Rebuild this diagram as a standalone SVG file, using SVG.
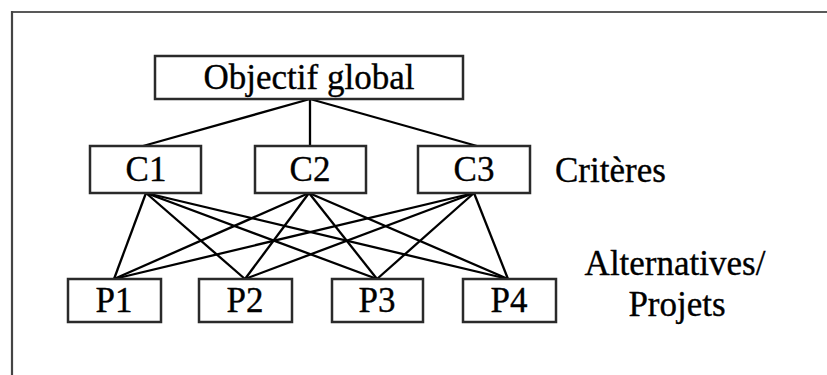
<svg xmlns="http://www.w3.org/2000/svg" width="827" height="375" viewBox="0 0 827 375">
  <style>
    .box { fill: #fff; stroke: #2a2a2a; stroke-width: 2.5; }
    .lbl { font-family: "Liberation Serif", "Times New Roman", serif; font-size: 35px; fill: #000; stroke: #000; stroke-width: 0.35; text-anchor: middle; }
    .side { font-family: "Liberation Serif", "Times New Roman", serif; font-size: 35px; fill: #000; stroke: #000; stroke-width: 0.35; }
    .link { stroke: #000; stroke-width: 2.3; fill: none; }
  </style>
  <rect width="827" height="375" fill="#fff"/>
  <!-- page frame: top and left edges -->
  <line x1="12" y1="12" x2="827" y2="12" stroke="#222" stroke-width="1.6"/>
  <line x1="12" y1="11" x2="12" y2="375" stroke="#444" stroke-width="2.2"/>

  <g id="connectors">
    <!-- goal to criteria -->
    <line class="link" x1="310" y1="99" x2="143" y2="146"/>
    <line class="link" x1="310" y1="99" x2="310" y2="146"/>
    <line class="link" x1="310" y1="99" x2="477" y2="146"/>
    <!-- criteria to alternatives -->
    <line class="link" x1="146" y1="193" x2="114" y2="279"/>
    <line class="link" x1="146" y1="193" x2="245" y2="279"/>
    <line class="link" x1="146" y1="193" x2="377" y2="279"/>
    <line class="link" x1="146" y1="193" x2="508" y2="279"/>
    <line class="link" x1="309" y1="193" x2="114" y2="279"/>
    <line class="link" x1="309" y1="193" x2="245" y2="279"/>
    <line class="link" x1="309" y1="193" x2="377" y2="279"/>
    <line class="link" x1="309" y1="193" x2="508" y2="279"/>
    <line class="link" x1="474" y1="193" x2="114" y2="279"/>
    <line class="link" x1="474" y1="193" x2="245" y2="279"/>
    <line class="link" x1="474" y1="193" x2="377" y2="279"/>
    <line class="link" x1="474" y1="193" x2="508" y2="279"/>
  </g>

  <g id="goal">
    <rect class="box" x="155" y="56" width="308" height="43"/>
    <text class="lbl" x="309" y="89">Objectif global</text>
  </g>

  <g id="c1">
    <rect class="box" x="90" y="146" width="111" height="47"/>
    <text class="lbl" x="146" y="181">C1</text>
  </g>
  <g id="c2">
    <rect class="box" x="255" y="146" width="111" height="47"/>
    <text class="lbl" x="310" y="181">C2</text>
  </g>
  <g id="c3">
    <rect class="box" x="418" y="146" width="112" height="47"/>
    <text class="lbl" x="474" y="181">C3</text>
  </g>

  <g id="p1">
    <rect class="box" x="68" y="279" width="93" height="43"/>
    <text class="lbl" x="114" y="312">P1</text>
  </g>
  <g id="p2">
    <rect class="box" x="199" y="279" width="93" height="43"/>
    <text class="lbl" x="245" y="312">P2</text>
  </g>
  <g id="p3">
    <rect class="box" x="332" y="279" width="91" height="43"/>
    <text class="lbl" x="377" y="312">P3</text>
  </g>
  <g id="p4">
    <rect class="box" x="463" y="279" width="93" height="43"/>
    <text class="lbl" x="509" y="312">P4</text>
  </g>

  <g id="level-labels">
    <text class="side" x="555" y="182">Critères</text>
    <text class="lbl" x="675" y="275">Alternatives/</text>
    <text class="lbl" x="677" y="316">Projets</text>
  </g>
</svg>
